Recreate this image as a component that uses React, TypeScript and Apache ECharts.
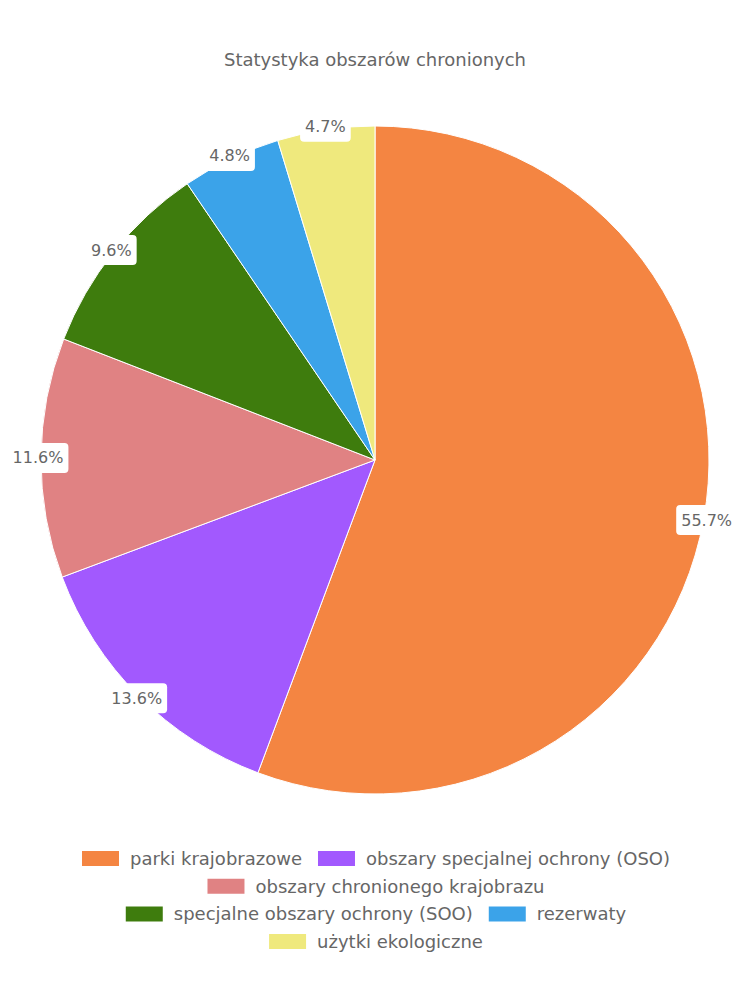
import React, { useEffect, useRef } from "react";
import * as echarts from "echarts";

const title = "Statystyka obszarów chronionych";
const categories = [
  "parki krajobrazowe",
  "obszary specjalnej ochrony (OSO)",
  "obszary chronionego krajobrazu",
  "specjalne obszary ochrony (SOO)",
  "rezerwaty",
  "użytki ekologiczne",
];
const values = [55.7, 13.6, 11.6, 9.6, 4.8, 4.7];
const colors = ["#f48542", "#a259fe", "#e08283", "#3e7c0d", "#3ba3e9", "#efe97d"];
// legend rows as in the reference
const legendRows = [[0, 1], [2], [3, 4], [5]];

const FONT = "'DejaVu Sans', sans-serif";

export default function App() {
  const ref = useRef<HTMLDivElement>(null);
  useEffect(() => {
    document.body.style.margin = "0";
    const chart = echarts.init(ref.current!, undefined, { renderer: "svg" });
    const data = categories.map((name, i) => ({
      name,
      value: values[i],
      itemStyle: { color: colors[i] },
    }));
    chart.setOption({
      animation: false,
      title: {
        text: title,
        left: "center",
        top: 45,
        textStyle: { color: "#666", fontSize: 18, fontWeight: "normal", fontFamily: FONT },
      },
      legend: legendRows.map((row, r) => ({
        data: row.map((i) => categories[i]),
        left: "center",
        top: 844 + r * 27.7,
        itemWidth: 39,
        itemHeight: 17,
        itemGap: 14,
        icon: "rect",
        selectedMode: false,
        textStyle: { color: "#666", fontSize: 18, fontFamily: FONT, padding: [0, 0, 0, 5] },
      })),
      series: [
        {
          type: "pie",
          center: [375, 460],
          radius: [0, 334],
          startAngle: 90,
          clockwise: true,
          silent: true,
          itemStyle: { borderColor: "#fff", borderWidth: 1 },
          label: { show: false },
          labelLine: { show: false },
          data,
        },
        {
          type: "pie",
          center: [375, 460],
          radius: [310, 358],
          startAngle: 90,
          clockwise: true,
          silent: true,
          itemStyle: { color: "transparent", borderWidth: 0 },
          label: {
            show: true,
            position: "inside",
            formatter: (p: any) => `${Number(p.value).toFixed(1)}%`,
            color: "#666",
            fontSize: 16,
            lineHeight: 18,
            fontFamily: FONT,
            backgroundColor: "#fff",
            borderRadius: 4,
            padding: [6, 5, 6, 5],
          },
          labelLine: { show: false },
          data: categories.map((name, i) => ({ name, value: values[i] })),
        },
      ],
    });
    return () => chart.dispose();
  }, []);
  return <div ref={ref} style={{ width: 750, height: 1000 }} />;
}
